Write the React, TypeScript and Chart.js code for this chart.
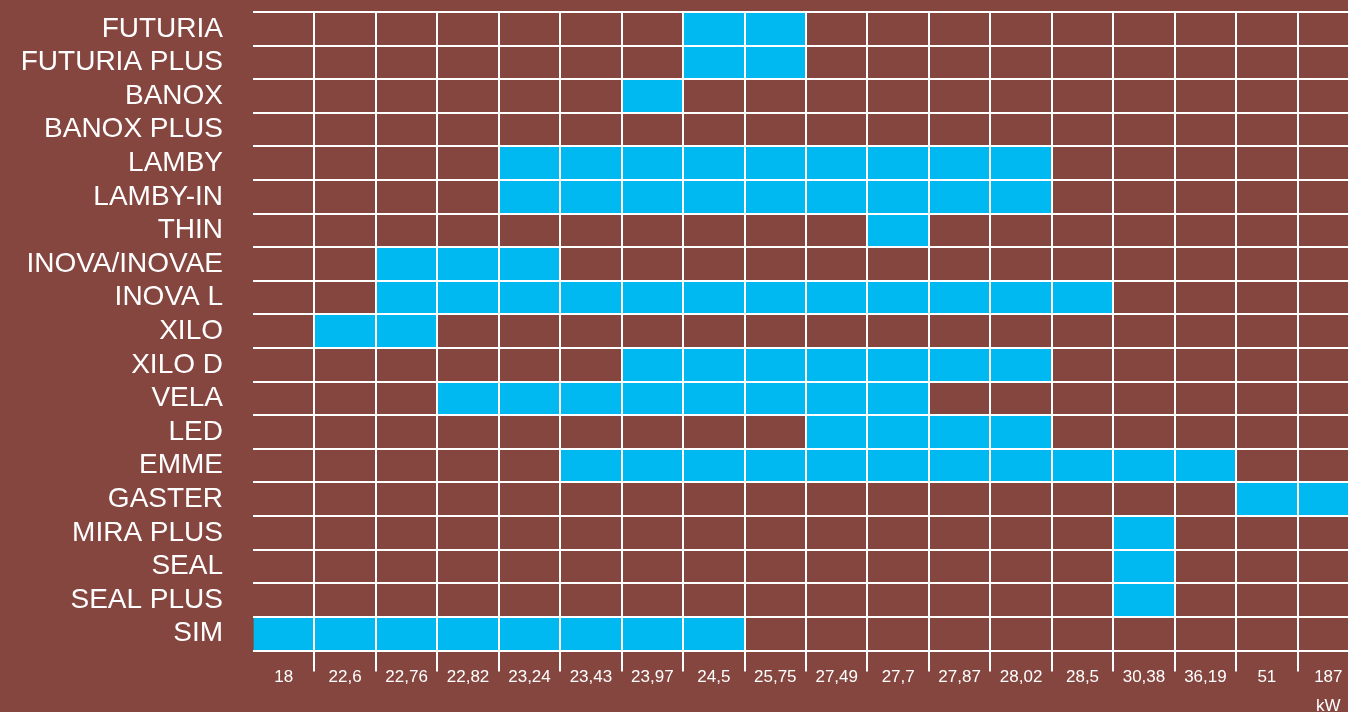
import { useEffect, useRef } from 'react';
import { Chart, registerables } from 'chart.js';

Chart.register(...registerables);

const products = [
  'FUTURIA', 'FUTURIA PLUS', 'BANOX', 'BANOX PLUS', 'LAMBY', 'LAMBY-IN', 'THIN',
  'INOVA/INOVAE', 'INOVA L', 'XILO', 'XILO D', 'VELA', 'LED', 'EMME', 'GASTER',
  'MIRA PLUS', 'SEAL', 'SEAL PLUS', 'SIM',
];
const powerLabels = [
  '18', '22,6', '22,76', '22,82', '23,24', '23,43', '23,97', '24,5', '25,75',
  '27,49', '27,7', '27,87', '28,02', '28,5', '30,38', '36,19', '51', '187',
];
const unitLabel = 'kW';
// first / last available power column (inclusive) for each product; null = none
const rangeStart = [7, 7, 6, null, 4, 4, 10, 2, 2, 1, 6, 3, 9, 5, 16, 14, 14, 14, 0];
const rangeEnd = [8, 8, 6, null, 12, 12, 10, 4, 13, 2, 12, 10, 12, 15, 17, 14, 14, 14, 7];

const BG = '#864640';
const BLUE = '#00B9F0';

export default function App() {
  const ref = useRef<HTMLCanvasElement | null>(null);

  useEffect(() => {
    document.body.style.margin = '0';
    const canvas = ref.current;
    if (!canvas) return;
    const data = products.map((_, i) =>
      rangeStart[i] == null ? null : [rangeStart[i] as number, (rangeEnd[i] as number) + 1]
    );
    const chart = new Chart(canvas, {
      type: 'bar',
      data: {
        labels: products,
        datasets: [
          {
            data: data as any,
            backgroundColor: BLUE,
            borderWidth: 0,
            barPercentage: 1,
            categoryPercentage: 1,
          },
        ],
      },
      options: {
        indexAxis: 'y',
        animation: false,
        responsive: true,
        maintainAspectRatio: false,
        layout: { padding: { top: 12, left: 0, right: 0, bottom: 0 } },
        plugins: { legend: { display: false }, tooltip: { enabled: false } },
        scales: {
          x: {
            type: 'linear',
            min: 0,
            max: 17.82,
            afterBuildTicks: (scale: any) => {
              scale.ticks = powerLabels.map((_, i) => ({ value: i }));
            },
            afterFit: (scale: any) => {
              scale.height = 61.5;
              scale.paddingLeft = 0;
              scale.paddingRight = 0;
            },
            border: { display: false },
            grid: {
              z: 1,
              color: (ctx: any) => (ctx.index === 0 ? 'rgba(0,0,0,0)' : '#ffffff'),
              lineWidth: 2,
              tickLength: 21,
              drawTicks: true,
            },
            ticks: {
              autoSkip: false,
              maxRotation: 0,
              color: '#ffffff',
              padding: -9,
              labelOffset: 30.7,
              font: { family: '"Liberation Sans", Arial, sans-serif', size: 17, lineHeight: 1.7 },
              callback: (_v: any, i: number) =>
                i === powerLabels.length - 1 ? [powerLabels[i], unitLabel] : powerLabels[i],
            },
          },
          y: {
            afterFit: (scale: any) => {
              scale.width = 253;
              scale.paddingTop = 0;
              scale.paddingBottom = 0;
            },
            border: { display: false },
            grid: {
              z: 1,
              color: '#ffffff',
              lineWidth: 2,
              drawTicks: false,
              offset: true,
            },
            ticks: {
              autoSkip: false,
              color: '#ffffff',
              padding: 30,
              font: { family: '"Liberation Sans", Arial, sans-serif', size: 28 },
            },
          },
        },
      },
    });
    return () => chart.destroy();
  }, []);

  return (
    <div
      style={{
        position: 'fixed',
        left: 0,
        top: 0,
        width: 1348,
        height: 712,
        background: BG,
        overflow: 'hidden',
      }}
    >
      <canvas ref={ref} />
    </div>
  );
}
